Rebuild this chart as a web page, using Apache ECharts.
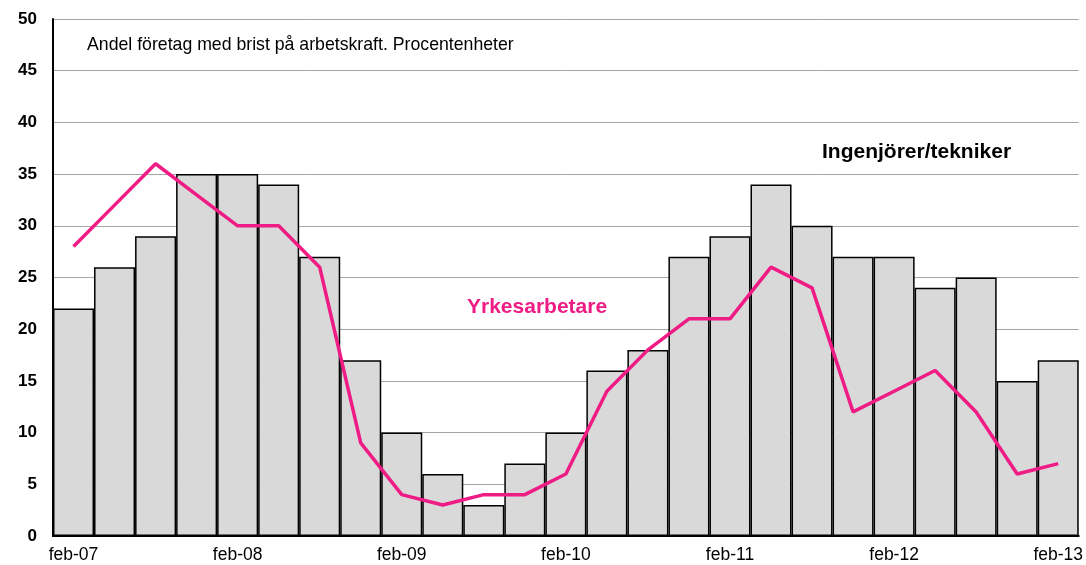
<!DOCTYPE html>
<html>
<head>
<meta charset="utf-8">
<script src="https://cdn.jsdelivr.net/npm/echarts@6/dist/echarts.min.js"></script>
<style>
  html, body { margin: 0; padding: 0; background: #fff; }
  #chart { width: 1086px; height: 565px; }
</style>
</head>
<body>
<div id="chart"></div>
<script>
// kvartal feb-07 .. feb-13
const categories = [
  "feb-07", "maj-07", "aug-07", "nov-07",
  "feb-08", "maj-08", "aug-08", "nov-08",
  "feb-09", "maj-09", "aug-09", "nov-09",
  "feb-10", "maj-10", "aug-10", "nov-10",
  "feb-11", "maj-11", "aug-11", "nov-11",
  "feb-12", "maj-12", "aug-12", "nov-12",
  "feb-13"
];
const ingenjorer = [22, 26, 29, 35, 35, 34, 27, 17, 10, 6, 3, 7, 10, 16, 18, 27, 29, 34, 30, 27, 27, 24, 25, 15, 17];
const yrkesarbetare = [28, 32, 36, 33, 30, 30, 26, 9, 4, 3, 4, 4, 6, 14, 18, 21, 21, 26, 24, 12, 14, 16, 12, 6, 7];

const font = "Liberation Sans, Arial, sans-serif";

const chart = echarts.init(document.getElementById("chart"));
chart.setOption({
  animation: false,
  grid: { left: 53, right: 6, top: 19, bottom: 29 },
  xAxis: {
    type: "category",
    data: categories,
    boundaryGap: true,
    axisLine: { lineStyle: { color: "#000", width: 2 } },
    axisTick: { show: false },
    axisLabel: {
      interval: 3,
      color: "#000",
      fontSize: 17.5,
      fontFamily: font,
      margin: 10
    }
  },
  yAxis: {
    type: "value",
    min: 0,
    max: 50,
    interval: 5,
    axisLine: { show: true, lineStyle: { color: "#000", width: 2 } },
    axisTick: { show: false },
    splitLine: { lineStyle: { color: "#a6a6a6", width: 1 } },
    axisLabel: {
      color: "#000",
      fontSize: 17,
      fontWeight: "bold",
      fontFamily: font,
      margin: 16
    }
  },
  graphic: [
    {
      type: "text", x: 87, y: 45,
      style: { text: "Andel företag med brist på arbetskraft. Procentenheter", fontSize: 17.7, fontFamily: font, fill: "#000", verticalAlign: "middle" }
    },
    {
      type: "text", x: 822, y: 152,
      style: { text: "Ingenjörer/tekniker", fontSize: 21, fontWeight: "bold", fontFamily: font, fill: "#000", verticalAlign: "middle" }
    },
    {
      type: "text", x: 467, y: 307,
      style: { text: "Yrkesarbetare", fontSize: 21, fontWeight: "bold", fontFamily: font, fill: "#ee1c84", verticalAlign: "middle" }
    }
  ],
  series: [
    {
      name: "Ingenjörer/tekniker",
      type: "bar",
      data: ingenjorer,
      barCategoryGap: 0,
      itemStyle: { color: "#d9d9d9", borderColor: "#000", borderWidth: 1.5 }
    },
    {
      name: "Yrkesarbetare",
      type: "line",
      data: yrkesarbetare,
      symbol: "none",
      lineStyle: { color: "#ee1c84", width: 3.5 },
      z: 5
    }
  ]
});
</script>
</body>
</html>
